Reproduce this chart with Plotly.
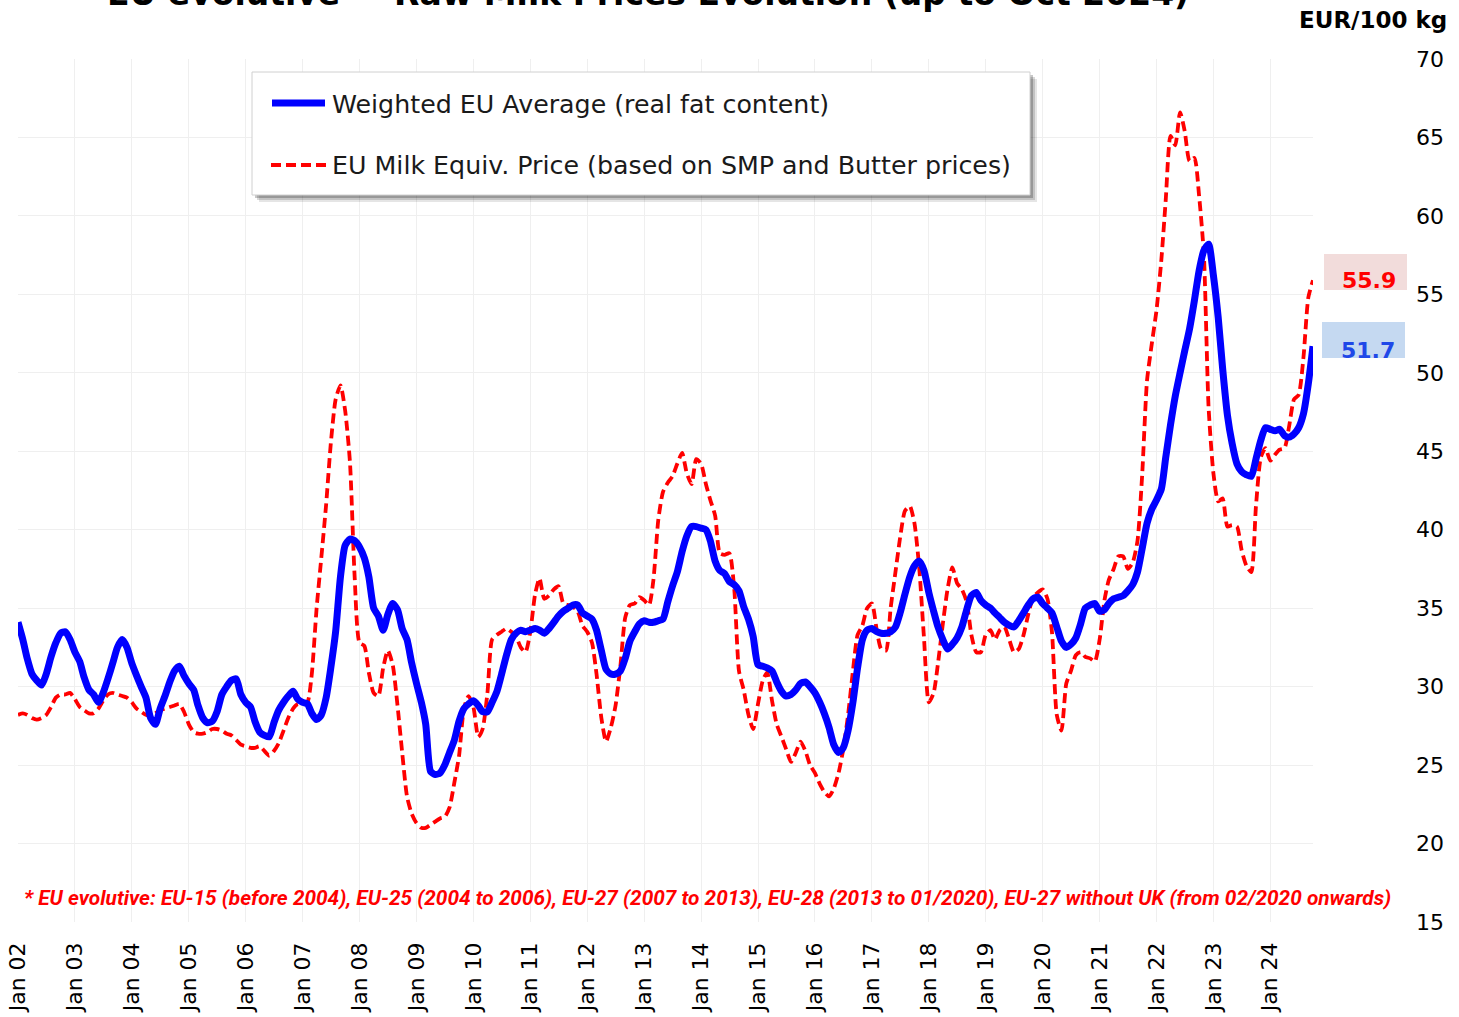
import plotly.graph_objects as go
import pandas as pd

# ---------------- data (EUR/100 kg, monthly, Jan 2002 - Oct 2024) ----------------
months = pd.date_range("2002-01-01", "2024-10-01", freq="MS")

avg_2002 = [34.1, 33.0, 31.8, 30.8, 30.4, 30.1, 30.8, 31.9, 32.8, 33.4, 33.5, 33.0]
avg_2003 = [32.2, 31.6, 30.6, 29.8, 29.5, 29.0, 29.6, 30.5, 31.5, 32.5, 33.0, 32.5]
avg_2004 = [31.5, 30.7, 30.0, 29.3, 28.0, 27.6, 28.6, 29.4, 30.3, 31.0, 31.3, 30.7]
avg_2005 = [30.2, 29.8, 28.8, 28.0, 27.7, 27.8, 28.4, 29.5, 30.0, 30.4, 30.5, 29.5]
avg_2006 = [29.0, 28.7, 27.8, 27.1, 26.9, 26.8, 27.7, 28.5, 29.0, 29.4, 29.7, 29.2]
avg_2007 = [29.0, 28.9, 28.3, 27.9, 28.2, 29.3, 31.2, 33.5, 37.0, 39.0, 39.4, 39.3]
avg_2008 = [38.9, 38.2, 37.0, 35.0, 34.5, 33.6, 34.6, 35.3, 34.9, 33.7, 33.0, 31.5]
avg_2009 = [30.2, 29.0, 27.6, 24.6, 24.4, 24.5, 25.0, 25.8, 26.6, 27.8, 28.6, 28.9]
avg_2010 = [29.1, 28.8, 28.4, 28.4, 29.0, 29.7, 30.8, 32.0, 33.0, 33.4, 33.6, 33.5]
avg_2011 = [33.6, 33.7, 33.6, 33.4, 33.7, 34.1, 34.5, 34.8, 35.0, 35.2, 35.2, 34.7]
avg_2012 = [34.5, 34.3, 33.6, 32.3, 31.1, 30.8, 30.8, 31.0, 31.8, 32.9, 33.5, 34.0]
avg_2013 = [34.2, 34.1, 34.1, 34.2, 34.3, 35.4, 36.4, 37.3, 38.6, 39.6, 40.2, 40.2]
avg_2014 = [40.1, 40.0, 39.3, 38.0, 37.4, 37.2, 36.7, 36.5, 36.1, 35.1, 34.3, 33.2]
avg_2015 = [31.4, 31.3, 31.2, 31.0, 30.3, 29.7, 29.4, 29.5, 29.8, 30.2, 30.3, 30.0]
avg_2016 = [29.6, 29.0, 28.3, 27.4, 26.3, 25.8, 26.1, 27.2, 29.0, 31.2, 33.0, 33.6]
avg_2017 = [33.7, 33.5, 33.4, 33.4, 33.5, 33.8, 34.7, 35.9, 37.0, 37.7, 38.0, 37.4]
avg_2018 = [36.0, 34.8, 33.8, 33.0, 32.4, 32.7, 33.1, 33.8, 34.9, 35.8, 36.0, 35.5]
avg_2019 = [35.2, 35.0, 34.7, 34.4, 34.1, 33.9, 33.8, 34.2, 34.7, 35.2, 35.6, 35.7]
avg_2020 = [35.3, 35.0, 34.7, 33.8, 32.9, 32.5, 32.7, 33.1, 34.0, 35.0, 35.2, 35.3]
avg_2021 = [34.8, 34.9, 35.3, 35.6, 35.7, 35.8, 36.1, 36.5, 37.3, 38.8, 40.4, 41.3]
avg_2022 = [41.9, 42.6, 44.6, 46.7, 48.5, 50.0, 51.4, 52.8, 54.6, 56.5, 57.8, 58.2]
avg_2023 = [56.2, 53.5, 50.3, 47.3, 45.5, 44.2, 43.7, 43.5, 43.4, 44.5, 45.7, 46.5]
avg_2024 = [46.4, 46.3, 46.4, 46.0, 45.9, 46.1, 46.5, 47.4, 49.3, 51.7]

equiv_2002 = [28.2, 28.3, 28.2, 28.0, 27.9, 28.0, 28.2, 28.7, 29.3, 29.5, 29.5, 29.6]
equiv_2003 = [29.2, 28.7, 28.5, 28.3, 28.3, 28.6, 29.1, 29.5, 29.6, 29.5, 29.4, 29.3]
equiv_2004 = [29.0, 28.6, 28.4, 28.2, 28.1, 28.3, 28.5, 28.6, 28.7, 28.8, 28.9, 28.4]
equiv_2005 = [27.6, 27.1, 27.0, 27.0, 27.1, 27.3, 27.3, 27.2, 27.0, 26.9, 26.6, 26.3]
equiv_2006 = [26.2, 26.1, 26.1, 26.2, 25.9, 25.6, 25.9, 26.4, 27.2, 28.0, 28.6, 28.9]
equiv_2007 = [28.9, 29.0, 30.8, 35.0, 38.2, 41.6, 45.5, 48.3, 49.2, 47.6, 44.3, 37.0]
equiv_2008 = [32.8, 32.6, 30.9, 29.6, 29.4, 31.2, 32.3, 31.4, 28.8, 25.8, 23.0, 21.9]
equiv_2009 = [21.3, 21.0, 21.0, 21.2, 21.4, 21.6, 21.7, 22.3, 23.9, 25.6, 28.6, 29.4]
equiv_2010 = [28.7, 26.8, 27.3, 29.6, 33.0, 33.3, 33.5, 33.7, 33.5, 33.2, 32.5, 32.2]
equiv_2011 = [33.5, 35.9, 36.9, 35.6, 35.8, 36.2, 36.4, 35.3, 35.2, 35.1, 34.8, 33.9]
equiv_2012 = [33.5, 32.8, 30.8, 28.0, 26.5, 27.4, 28.8, 31.3, 34.4, 35.2, 35.3, 35.7]
equiv_2013 = [35.5, 35.2, 36.8, 40.6, 42.4, 43.0, 43.4, 44.2, 44.9, 43.6, 42.9, 44.5]
equiv_2014 = [44.2, 42.9, 41.9, 40.9, 38.5, 38.4, 38.5, 36.3, 31.0, 29.8, 28.2, 27.3]
equiv_2015 = [28.9, 30.4, 30.9, 29.1, 27.6, 26.8, 26.0, 25.2, 25.8, 26.5, 25.9, 25.0]
equiv_2016 = [24.5, 23.8, 23.3, 23.0, 23.5, 24.5, 26.0, 28.2, 31.0, 33.3, 33.9, 35.0]
equiv_2017 = [35.3, 33.6, 32.4, 32.3, 35.0, 37.3, 39.5, 41.2, 41.5, 40.4, 37.5, 33.1]
equiv_2018 = [29.0, 29.6, 31.5, 34.0, 36.2, 37.6, 36.6, 36.2, 35.4, 33.3, 32.2, 32.2]
equiv_2019 = [33.3, 33.6, 33.0, 33.6, 33.8, 33.0, 32.2, 32.4, 33.3, 34.6, 35.7, 36.0]
equiv_2020 = [36.2, 35.6, 33.5, 28.2, 27.2, 30.2, 31.0, 32.0, 32.2, 31.9, 31.8, 31.6]
equiv_2021 = [33.0, 35.5, 36.8, 37.5, 38.3, 38.3, 37.5, 37.9, 39.3, 43.5, 49.5, 51.8]
equiv_2022 = [54.0, 57.2, 61.0, 65.1, 64.5, 66.6, 65.4, 63.5, 63.7, 61.3, 57.5, 47.8]
equiv_2023 = [43.6, 41.8, 42.0, 40.2, 40.3, 40.2, 38.7, 37.7, 37.3, 41.5, 44.6, 45.2]
equiv_2024 = [44.4, 44.8, 45.1, 45.2, 46.6, 48.3, 48.6, 51.0, 54.8, 55.9]

weighted_eu_average = (avg_2002 + avg_2003 + avg_2004 + avg_2005 + avg_2006 + avg_2007 + avg_2008
                       + avg_2009 + avg_2010 + avg_2011 + avg_2012 + avg_2013 + avg_2014 + avg_2015
                       + avg_2016 + avg_2017 + avg_2018 + avg_2019 + avg_2020 + avg_2021 + avg_2022
                       + avg_2023 + avg_2024)
milk_equiv_price = (equiv_2002 + equiv_2003 + equiv_2004 + equiv_2005 + equiv_2006 + equiv_2007
                    + equiv_2008 + equiv_2009 + equiv_2010 + equiv_2011 + equiv_2012 + equiv_2013
                    + equiv_2014 + equiv_2015 + equiv_2016 + equiv_2017 + equiv_2018 + equiv_2019
                    + equiv_2020 + equiv_2021 + equiv_2022 + equiv_2023 + equiv_2024)

series_names = ["Weighted EU Average (real fat content)",
                "EU Milk Equiv. Price (based on SMP and Butter prices)"]
title_text = "EU evolutive* - Raw Milk Prices Evolution (up to Oct 2024)"
footnote_text = ("* EU evolutive: EU-15 (before 2004), EU-25 (2004 to 2006), EU-27 (2007 to 2013), "
                 "EU-28 (2013 to 01/2020), EU-27 without UK (from 02/2020 onwards)")
unit_text = "EUR/100 kg"

# ---------------- layout geometry ----------------
W, H = 1459, 1017
PX0, PX1, PY0, PY1 = 18, 1313, 59, 922


def px(x):
    return (x - PX0) / (PX1 - PX0)


def py(y):
    return (PY1 - y) / (PY1 - PY0)


BLUE = "#0000ff"
RED = "#ff0000"
FONT = "Verdana, DejaVu Sans, sans-serif"

fig = go.Figure()
fig.add_trace(go.Scatter(x=months, y=milk_equiv_price, mode="lines", name=series_names[1],
                         line=dict(color=RED, width=3.8, dash="10px,5px", shape="spline", smoothing=0.6),
                         showlegend=False))
fig.add_trace(go.Scatter(x=months, y=weighted_eu_average, mode="lines", name=series_names[0],
                         line=dict(color=BLUE, width=7, shape="spline", smoothing=0.6),
                         showlegend=False))

shapes = []
annotations = []

# legend box with soft shadow
for off, op in [(7, 0.10), (5, 0.15), (3, 0.22)]:
    shapes.append(dict(type="rect", xref="paper", yref="paper",
                       x0=px(252 + off), x1=px(1030 + off), y0=py(195 + off), y1=py(72 + off),
                       line=dict(width=0), fillcolor=f"rgba(0,0,0,{op})", layer="above"))
shapes.append(dict(type="rect", xref="paper", yref="paper",
                   x0=px(252), x1=px(1030), y0=py(195), y1=py(72),
                   line=dict(color="#d0d0d0", width=1), fillcolor="white", layer="above"))
shapes.append(dict(type="line", xref="paper", yref="paper",
                   x0=px(272), x1=px(325), y0=py(103), y1=py(103),
                   line=dict(color=BLUE, width=7), layer="above"))
shapes.append(dict(type="line", xref="paper", yref="paper",
                   x0=px(271), x1=px(328), y0=py(165), y1=py(165),
                   line=dict(color=RED, width=3.8, dash="10px,5px"), layer="above"))
annotations.append(dict(xref="paper", yref="paper", x=px(330), y=py(104), text=series_names[0],
                        showarrow=False, xanchor="left", yanchor="middle",
                        font=dict(family=FONT, size=25.3, color="#1a1a1a")))
annotations.append(dict(xref="paper", yref="paper", x=px(330), y=py(165), text=series_names[1],
                        showarrow=False, xanchor="left", yanchor="middle",
                        font=dict(family=FONT, size=25.3, color="#1a1a1a")))

# last-value labels
shapes.append(dict(type="rect", xref="paper", yref="paper",
                   x0=px(1324), x1=px(1407), y0=py(290), y1=py(254),
                   line=dict(width=0), fillcolor="#f2dcdb", layer="above"))
shapes.append(dict(type="rect", xref="paper", yref="paper",
                   x0=px(1322), x1=px(1405), y0=py(358), y1=py(322),
                   line=dict(width=0), fillcolor="#c5d9f1", layer="above"))
annotations.append(dict(xref="paper", yref="paper", x=px(1369), y=py(280),
                        text=f"<b>{milk_equiv_price[-1]:.1f}</b>", showarrow=False,
                        xanchor="center", yanchor="middle",
                        font=dict(family=FONT, size=22, color=RED)))
annotations.append(dict(xref="paper", yref="paper", x=px(1368), y=py(351),
                        text=f"<b>{weighted_eu_average[-1]:.1f}</b>", showarrow=False,
                        xanchor="center", yanchor="middle",
                        font=dict(family=FONT, size=22, color="#1f48e8")))

# unit label
annotations.append(dict(xref="paper", yref="paper", x=px(1449), y=py(20), text=f"<b>{unit_text}</b>",
                        showarrow=False, xanchor="right", yanchor="middle",
                        font=dict(family=FONT, size=23, color="black")))

# title (cut off at the top of the page, as in the reference)
annotations.append(dict(xref="paper", yref="paper", x=px(648), y=py(15), text=f"<b>{title_text}</b>",
                        showarrow=False, xanchor="center", yanchor="bottom",
                        font=dict(family=FONT, size=33, color="black")))

# footnote
annotations.append(dict(xref="paper", yref="paper", x=px(22), y=py(898), text=f"<b><i>{footnote_text}</i></b>",
                        showarrow=False, xanchor="left", yanchor="middle",
                        font=dict(family="Liberation Sans Narrow, Roboto, sans-serif", size=20.8, color=RED)))

fig.update_layout(
    width=W, height=H, autosize=False,
    margin=dict(l=PX0, r=W - PX1, t=PY0, b=H - PY1, autoexpand=False),
    paper_bgcolor="white", plot_bgcolor="white",
    shapes=shapes, annotations=annotations,
    showlegend=False,
    xaxis=dict(type="date", range=[months[0], months[-1]], automargin=False,
               tick0="2002-01-01", dtick="M12", tickformat="Jan %y", tickangle=-90,
               showgrid=True, gridcolor="#efefef", gridwidth=1, zeroline=False, showline=False,
               ticks="", ticklabelstandoff=15, tickfont=dict(family=FONT, size=22, color="black")),
    yaxis=dict(range=[15, 70], dtick=5, side="right", showgrid=True, gridcolor="#efefef",
               gridwidth=1, zeroline=False, showline=False, ticks="", ticklabelstandoff=102,
               automargin=False, tickfont=dict(family=FONT, size=22, color="black")),
)

fig.write_html("out.html", config={"displayModeBar": False},
               post_script="document.body.style.margin='0px';")
